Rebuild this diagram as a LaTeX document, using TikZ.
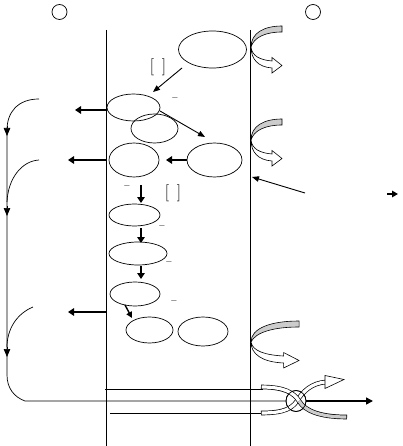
\documentclass[tikz,border=0pt]{standalone}
\usetikzlibrary{shapes.geometric,arrows.meta}
\begin{document}
\begin{tikzpicture}[x=1pt,y=-1pt,
  thinline/.style={line width=0.7pt},
  ell/.style={ellipse,draw,line width=0.7pt,inner sep=0pt},
  thickarr/.style={line width=2.2pt,-{Triangle[length=6pt,width=7.5pt]}},
  thinarr/.style={line width=0.9pt,-{Triangle[length=7pt,width=5.5pt]}},
  midtip/.style={line width=0.7pt,-{Triangle[length=8pt,width=6.5pt]}},
  minus/.style={inner sep=0pt,font=\small},
  brack/.style={inner sep=0pt,font=\fontsize{17}{19}\selectfont},
  recycle/.pic={
    \filldraw[fill=gray!40,line width=0.6pt] (0,0) .. controls (0,-14) and (13,-21) .. (31,-21) -- (31,-15) .. controls (15,-15) and (3,-10) .. (0,0) -- cycle;
    \filldraw[fill=white,line width=0.6pt] (0,0) .. controls (1,9) and (9,13) .. (21,14) -- (21,10.5) -- (31,18.5) -- (21,26) -- (21,21) .. controls (7,20) and (0,12) .. (0,0) -- cycle;
  }]
\useasboundingbox (0,0) rectangle (402,446);
% top circles
\node[circle,draw,thinline,minimum size=15pt,inner sep=0pt] (c1) at (59.5,12) {};
\node[circle,draw,thinline,minimum size=15pt,inner sep=0pt] (c2) at (313,12) {};
% membranes
\coordinate (m1t) at (106,30); \coordinate (m1b) at (106,446);
\coordinate (m2t) at (250,30); \coordinate (m2b) at (250,446);
\draw[thinline] (m1t) -- (m1b);
\draw[thinline] (m2t) -- (m2b);
% ellipses
\node[ell,minimum width=68pt,minimum height=37pt] (T) at (212.5,49.5) {};
\node[ell,minimum width=53pt,minimum height=27pt] (A) at (133.5,107.5) {};
\node[ell,minimum width=47pt,minimum height=29pt] (B) at (154.5,128.5) {};
\node[ell,minimum width=50pt,minimum height=34pt] (C) at (134,160) {};
\node[ell,minimum width=55pt,minimum height=34pt] (D) at (214.5,160) {};
\node[ell,minimum width=51pt,minimum height=22pt] (E) at (134.5,215) {};
\node[ell,minimum width=58pt,minimum height=23pt] (F) at (138,253.5) {};
\node[ell,minimum width=50pt,minimum height=24pt] (G) at (135,294) {};
\node[ell,minimum width=47pt,minimum height=26pt] (H) at (149.5,330) {};
\node[ell,minimum width=50pt,minimum height=29pt] (I) at (203,331.5) {};
% brackets and minus signs
\node[brack] (br1) at (158,67) {[\hspace{8pt}]};
\node[brack] (br2) at (173,193) {[\hspace{8pt}]};
\node[minus] (n1) at (175,98) {$-$};
\node[minus] (n2) at (127,186) {$-$};
\node[minus] (n3) at (162,226) {$-$};
\node[minus] (n4) at (169,262) {$-$};
\node[minus] (n5) at (174,301) {$-$};
% arrows inside
\coordinate (a1s) at (182,68); \coordinate (a1e) at (153,92);
\draw[thinarr] (a1s) -- (a1e);
\coordinate (a2s) at (160,111); \coordinate (a2e) at (205,137);
\draw[thinarr] (a2s) -- (a2e);
\draw[thickarr] (D.west) -- (166,160) coordinate (dce);
\coordinate (d1s) at (141,185); \coordinate (d1e) at (141,203);
\draw[thickarr] (d1s) -- (d1e);
\coordinate (d2s) at (141,228); \coordinate (d2e) at (141,243);
\draw[thickarr] (d2s) -- (d2e);
\coordinate (d3s) at (141,266); \coordinate (d3e) at (141,279);
\draw[thickarr] (d3s) -- (d3e);
\coordinate (ghs) at (125,305); \coordinate (ghe) at (132,318);
\draw[line width=1.4pt,-{Triangle[length=6pt,width=6pt]}] (ghs) -- (ghe);
% left arrows
\coordinate (l1s) at (106,110); \coordinate (l1e) at (75,110);
\coordinate (l2s) at (106,160); \coordinate (l2e) at (68,160);
\coordinate (l3s) at (106,312); \coordinate (l3e) at (68,312);
\draw[thickarr] (l1s) -- (l1e);
\draw[thickarr] (l2s) -- (l2e);
\draw[thickarr] (l3s) -- (l3e);
% right side arrows
\coordinate (r1s) at (305,193); \coordinate (r1e) at (252,177);
\draw[thinarr] (r1s) -- (r1e);
\coordinate (r2s) at (387,194); \coordinate (r2e) at (398,194);
\draw[line width=1.6pt,-{Triangle[length=6pt,width=6.5pt]}] (r2s) -- (r2e);
% recycle symbols
\pic at (251,47) {recycle};
\pic at (251,140) {recycle};
\pic[xscale=1.55] at (251,342) {recycle};
% crossing loop
\node[ellipse,draw,thinline,minimum width=20pt,minimum height=21pt,inner sep=0pt] (X) at (296,401) {};
% left loop lines
\coordinate (p1) at (39,99);
\coordinate (p2) at (39,160);
\coordinate (p3) at (33,307);
\coordinate (p4) at (25,401);
\draw[thinline] (p1) .. controls (18,99) and (7,112) .. (7,130) -- (7,375) .. controls (7,388) and (14,397) .. (p4) -- (X.west);
\draw[thinline] (p2) .. controls (22,161) and (8,178) .. (7,202);
\draw[thinline] (p3) .. controls (16,314) and (7,330) .. (7,347);
\draw[midtip] (7,126) -- (7,136);
\draw[midtip] (7,206) -- (7,216);
\draw[midtip] (7,347) -- (7,357);
% horizontal lines to crossing
\coordinate (h1s) at (105,389); \coordinate (h1e) at (263,389);
\coordinate (h2s) at (110,413); \coordinate (h2e) at (263,413);
\draw[thinline] (h1s) -- (h1e);
\draw[thinline] (h2s) -- (h2e);
% crossing bands
\draw[line width=4.6pt] (261,413) .. controls (285,413) and (292,408) .. (297,401) .. controls (303,391) and (312,383) .. (326,382);
\draw[line width=3.2pt,white,shorten <=0.7pt] (261,413) .. controls (285,413) and (292,408) .. (297,401) .. controls (303,391) and (312,383) .. (326,382);
\filldraw[fill=white,line width=0.6pt] (325,375.5) -- (344,379.5) -- (325,388.5) -- cycle;
\draw[line width=4.6pt] (261,387) .. controls (285,387) and (294,393) .. (299,401) .. controls (305,411) and (320,417) .. (347,417);
\draw[line width=3.2pt,white,shorten <=0.7pt] (261,387) .. controls (285,387) and (294,393) .. (299,401);
\draw[line width=3.2pt,gray!40,shorten >=0.7pt] (299,401) .. controls (305,411) and (320,417) .. (347,417);
\draw[thinline] (296,401) ellipse[x radius=10pt,y radius=10.5pt];
\coordinate (xe) at (373,401);
\draw[line width=1.6pt,-{Triangle[length=7pt,width=7pt]}] (X.east) -- (xe);
\end{tikzpicture}
\end{document}
